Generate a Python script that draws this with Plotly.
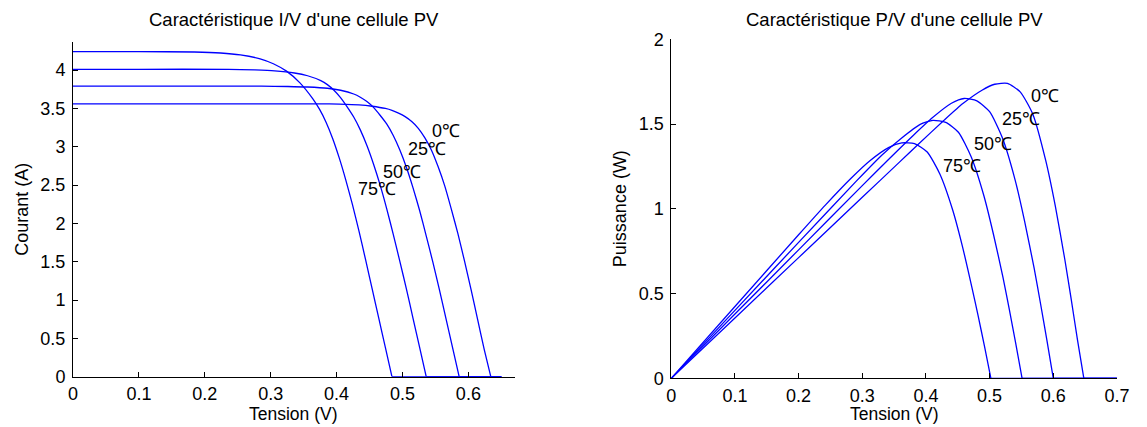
import plotly.graph_objects as go

# ---------------- data ----------------
temps = ["75℃", "50℃", "25℃", "0℃"]

# I/V characteristic : Tension (V) -> Courant (A); last point = end of the zero line
v_iv_75 = [0, 0.10, 0.184, 0.224, 0.254, 0.284, 0.304, 0.324, 0.344, 0.364, 0.374, 0.384, 0.394, 0.404, 0.414, 0.424, 0.434, 0.444, 0.454, 0.464, 0.474, 0.484, 0.65]
i_iv_75 = [4.24, 4.24, 4.236, 4.223, 4.198, 4.147, 4.083, 3.986, 3.837, 3.625, 3.49, 3.32, 3.108, 2.854, 2.565, 2.247, 1.90, 1.526, 1.145, 0.763, 0.382, 0, 0]

v_iv_50 = [0, 0.10, 0.236, 0.276, 0.306, 0.336, 0.356, 0.376, 0.386, 0.396, 0.406, 0.416, 0.426, 0.436, 0.446, 0.456, 0.466, 0.476, 0.486, 0.496, 0.506, 0.516, 0.526, 0.536, 0.65]
i_iv_50 = [4.01, 4.01, 4.01, 4.002, 3.99, 3.962, 3.926, 3.862, 3.81, 3.737, 3.641, 3.521, 3.388, 3.22, 3.016, 2.775, 2.502, 2.193, 1.857, 1.504, 1.143, 0.762, 0.381, 0, 0]

v_iv_25 = [0, 0.10, 0.20, 0.286, 0.326, 0.356, 0.386, 0.406, 0.426, 0.436, 0.446, 0.456, 0.466, 0.476, 0.486, 0.496, 0.506, 0.516, 0.526, 0.536, 0.546, 0.556, 0.566, 0.576, 0.586, 0.65]
i_iv_25 = [3.79, 3.79, 3.79, 3.79, 3.786, 3.779, 3.763, 3.737, 3.688, 3.646, 3.589, 3.513, 3.411, 3.297, 3.146, 2.956, 2.729, 2.464, 2.168, 1.838, 1.497, 1.137, 0.758, 0.379, 0, 0]

v_iv_0 = [0, 0.10, 0.20, 0.334, 0.374, 0.404, 0.434, 0.454, 0.474, 0.484, 0.494, 0.504, 0.514, 0.524, 0.534, 0.544, 0.554, 0.564, 0.574, 0.584, 0.594, 0.604, 0.614, 0.624, 0.634, 0.65]
i_iv_0 = [3.56, 3.56, 3.56, 3.56, 3.56, 3.556, 3.546, 3.528, 3.499, 3.475, 3.439, 3.393, 3.329, 3.24, 3.115, 2.955, 2.741, 2.492, 2.189, 1.869, 1.513, 1.139, 0.748, 0.356, 0, 0]

# P/V characteristic : Tension (V) -> Puissance (W); last point = end of the zero line
v_pv_75 = [0, 0.10, 0.20, 0.242, 0.282, 0.312, 0.342, 0.362, 0.382, 0.402, 0.422, 0.442, 0.457, 0.472, 0.482, 0.492, 0.502, 0.70]
p_pv_75 = [0, 0.424, 0.847, 1.022, 1.179, 1.284, 1.363, 1.389, 1.385, 1.335, 1.204, 0.993, 0.783, 0.540, 0.368, 0.188, 0, 0]

v_pv_50 = [0, 0.10, 0.20, 0.291, 0.331, 0.361, 0.391, 0.411, 0.431, 0.451, 0.471, 0.491, 0.506, 0.521, 0.531, 0.541, 0.551, 0.70]
p_pv_50 = [0, 0.401, 0.802, 1.165, 1.318, 1.415, 1.498, 1.522, 1.510, 1.452, 1.307, 1.077, 0.850, 0.596, 0.405, 0.206, 0, 0]

v_pv_25 = [0, 0.10, 0.20, 0.30, 0.34, 0.38, 0.41, 0.44, 0.46, 0.48, 0.50, 0.52, 0.54, 0.555, 0.57, 0.58, 0.59, 0.60, 0.70]
p_pv_25 = [0, 0.379, 0.758, 1.137, 1.287, 1.433, 1.537, 1.623, 1.651, 1.637, 1.573, 1.419, 1.171, 0.926, 0.648, 0.440, 0.224, 0, 0]

v_pv_0 = [0, 0.10, 0.20, 0.30, 0.358, 0.388, 0.428, 0.458, 0.488, 0.508, 0.528, 0.548, 0.568, 0.588, 0.603, 0.618, 0.628, 0.638, 0.648, 0.70]
p_pv_0 = [0, 0.356, 0.712, 1.068, 1.274, 1.381, 1.521, 1.621, 1.700, 1.735, 1.740, 1.690, 1.557, 1.287, 1.020, 0.704, 0.470, 0.227, 0, 0]

# temperature label positions (data coordinates)
iv_label_v = [0.4616, 0.4995, 0.5375, 0.5666]
iv_label_i = [2.448, 2.676, 2.97, 3.21]
pv_label_v = [0.4571, 0.5055, 0.5487, 0.5867]
pv_label_p = [1.255, 1.383, 1.530, 1.663]

iv_x_ticks = [0, 0.1, 0.2, 0.3, 0.4, 0.5, 0.6]
iv_y_ticks = [0, 0.5, 1, 1.5, 2, 2.5, 3, 3.5, 4]
pv_x_ticks = [0, 0.1, 0.2, 0.3, 0.4, 0.5, 0.6, 0.7]
pv_y_ticks = [0, 0.5, 1, 1.5, 2]

# ---------------- figure ----------------
FONT = "Liberation Sans, Arial, sans-serif"
FS = 18
BLUE = "#0000FF"
fig = go.Figure()

iv_sets = [(v_iv_75, i_iv_75), (v_iv_50, i_iv_50), (v_iv_25, i_iv_25), (v_iv_0, i_iv_0)]
pv_sets = [(v_pv_75, p_pv_75), (v_pv_50, p_pv_50), (v_pv_25, p_pv_25), (v_pv_0, p_pv_0)]


def add_curve(xs, ys, xa, ya):
    # smooth curve up to the open-circuit point, then the straight zero line
    fig.add_trace(go.Scatter(x=xs[:-1], y=ys[:-1], mode="lines", xaxis=xa, yaxis=ya,
                             line=dict(color=BLUE, width=1.3, shape="spline", smoothing=0.6),
                             showlegend=False, hoverinfo="skip"))
    fig.add_trace(go.Scatter(x=xs[-2:], y=ys[-2:], mode="lines", xaxis=xa, yaxis=ya,
                             line=dict(color=BLUE, width=1.3),
                             showlegend=False, hoverinfo="skip"))


for xs, ys in iv_sets:
    add_curve(xs, ys, "x", "y")
for xs, ys in pv_sets:
    add_curve(xs, ys, "x2", "y2")

axis_common = dict(showline=True, linecolor="black", linewidth=1, mirror=False,
                   ticks="inside", ticklen=5, tickwidth=1, tickcolor="black",
                   showgrid=False, zeroline=False,
                   tickfont=dict(family=FONT, size=FS, color="black"))

fig.update_layout(
    width=1147, height=427,
    margin=dict(l=73, r=29, t=39, b=48),
    paper_bgcolor="white", plot_bgcolor="white",
    font=dict(family=FONT, color="black"),
    xaxis=dict(domain=[0.0, 0.4225], range=[0, 0.67], tickvals=iv_x_ticks,
               ticktext=[f"{t:g}" for t in iv_x_ticks], anchor="y",
               ticklabelstandoff=1, **axis_common),
    yaxis=dict(domain=[0.0068, 0.992], range=[0, 4.37], tickvals=iv_y_ticks,
               ticktext=[f"{t:g}" for t in iv_y_ticks], anchor="x",
               ticklabelstandoff=3, **axis_common),
    xaxis2=dict(domain=[0.5725, 0.999], range=[0, 0.7], tickvals=pv_x_ticks,
                ticktext=[f"{t:g}" for t in pv_x_ticks], anchor="y2",
                ticklabelstandoff=1, **axis_common),
    yaxis2=dict(domain=[0.002, 0.999], range=[0, 2], tickvals=pv_y_ticks,
                ticktext=[f"{t:g}" for t in pv_y_ticks], anchor="x2",
                ticklabelstandoff=3, **axis_common),
)

ann = []
for t, vx, vy in zip(temps, iv_label_v, iv_label_i):
    ann.append(dict(x=vx, y=vy, xref="x", yref="y", text=t, showarrow=False,
                    font=dict(family=FONT, size=FS, color="black"),
                    xanchor="center", yanchor="middle"))
for t, vx, vy in zip(temps, pv_label_v, pv_label_p):
    ann.append(dict(x=vx, y=vy, xref="x2", yref="y2", text=t, showarrow=False,
                    font=dict(family=FONT, size=FS, color="black"),
                    xanchor="center", yanchor="middle"))

# subplot titles
for xr, txt in [("x domain", "Caractéristique I/V d'une cellule PV"),
                ("x2 domain", "Caractéristique P/V d'une cellule PV")]:
    ann.append(dict(x=0.5, y=1.057, xref=xr, yref="paper", text=txt, showarrow=False,
                    font=dict(family=FONT, size=18.5, color="black"),
                    xanchor="center", yanchor="middle"))
# axis titles
for xr, txt in [("x domain", "Tension (V)"), ("x2 domain", "Tension (V)")]:
    ann.append(dict(x=0.5, y=-0.104, xref=xr, yref="paper", text=txt, showarrow=False,
                    font=dict(family=FONT, size=17.5, color="black"),
                    xanchor="center", yanchor="middle"))
for px, txt in [(-0.0491, "Courant (A)"), (0.5236, "Puissance (W)")]:
    ann.append(dict(x=px, y=0.5, xref="paper", yref="paper", text=txt, showarrow=False,
                    textangle=-90, font=dict(family=FONT, size=FS, color="black"),
                    xanchor="center", yanchor="middle"))
fig.update_layout(annotations=ann)

# the page's default 8px body margin would shift the figure; remove it
fig.write_html("out.html", config={"displayModeBar": False},
               post_script="document.body.style.margin='0px';document.body.style.padding='0px';")
